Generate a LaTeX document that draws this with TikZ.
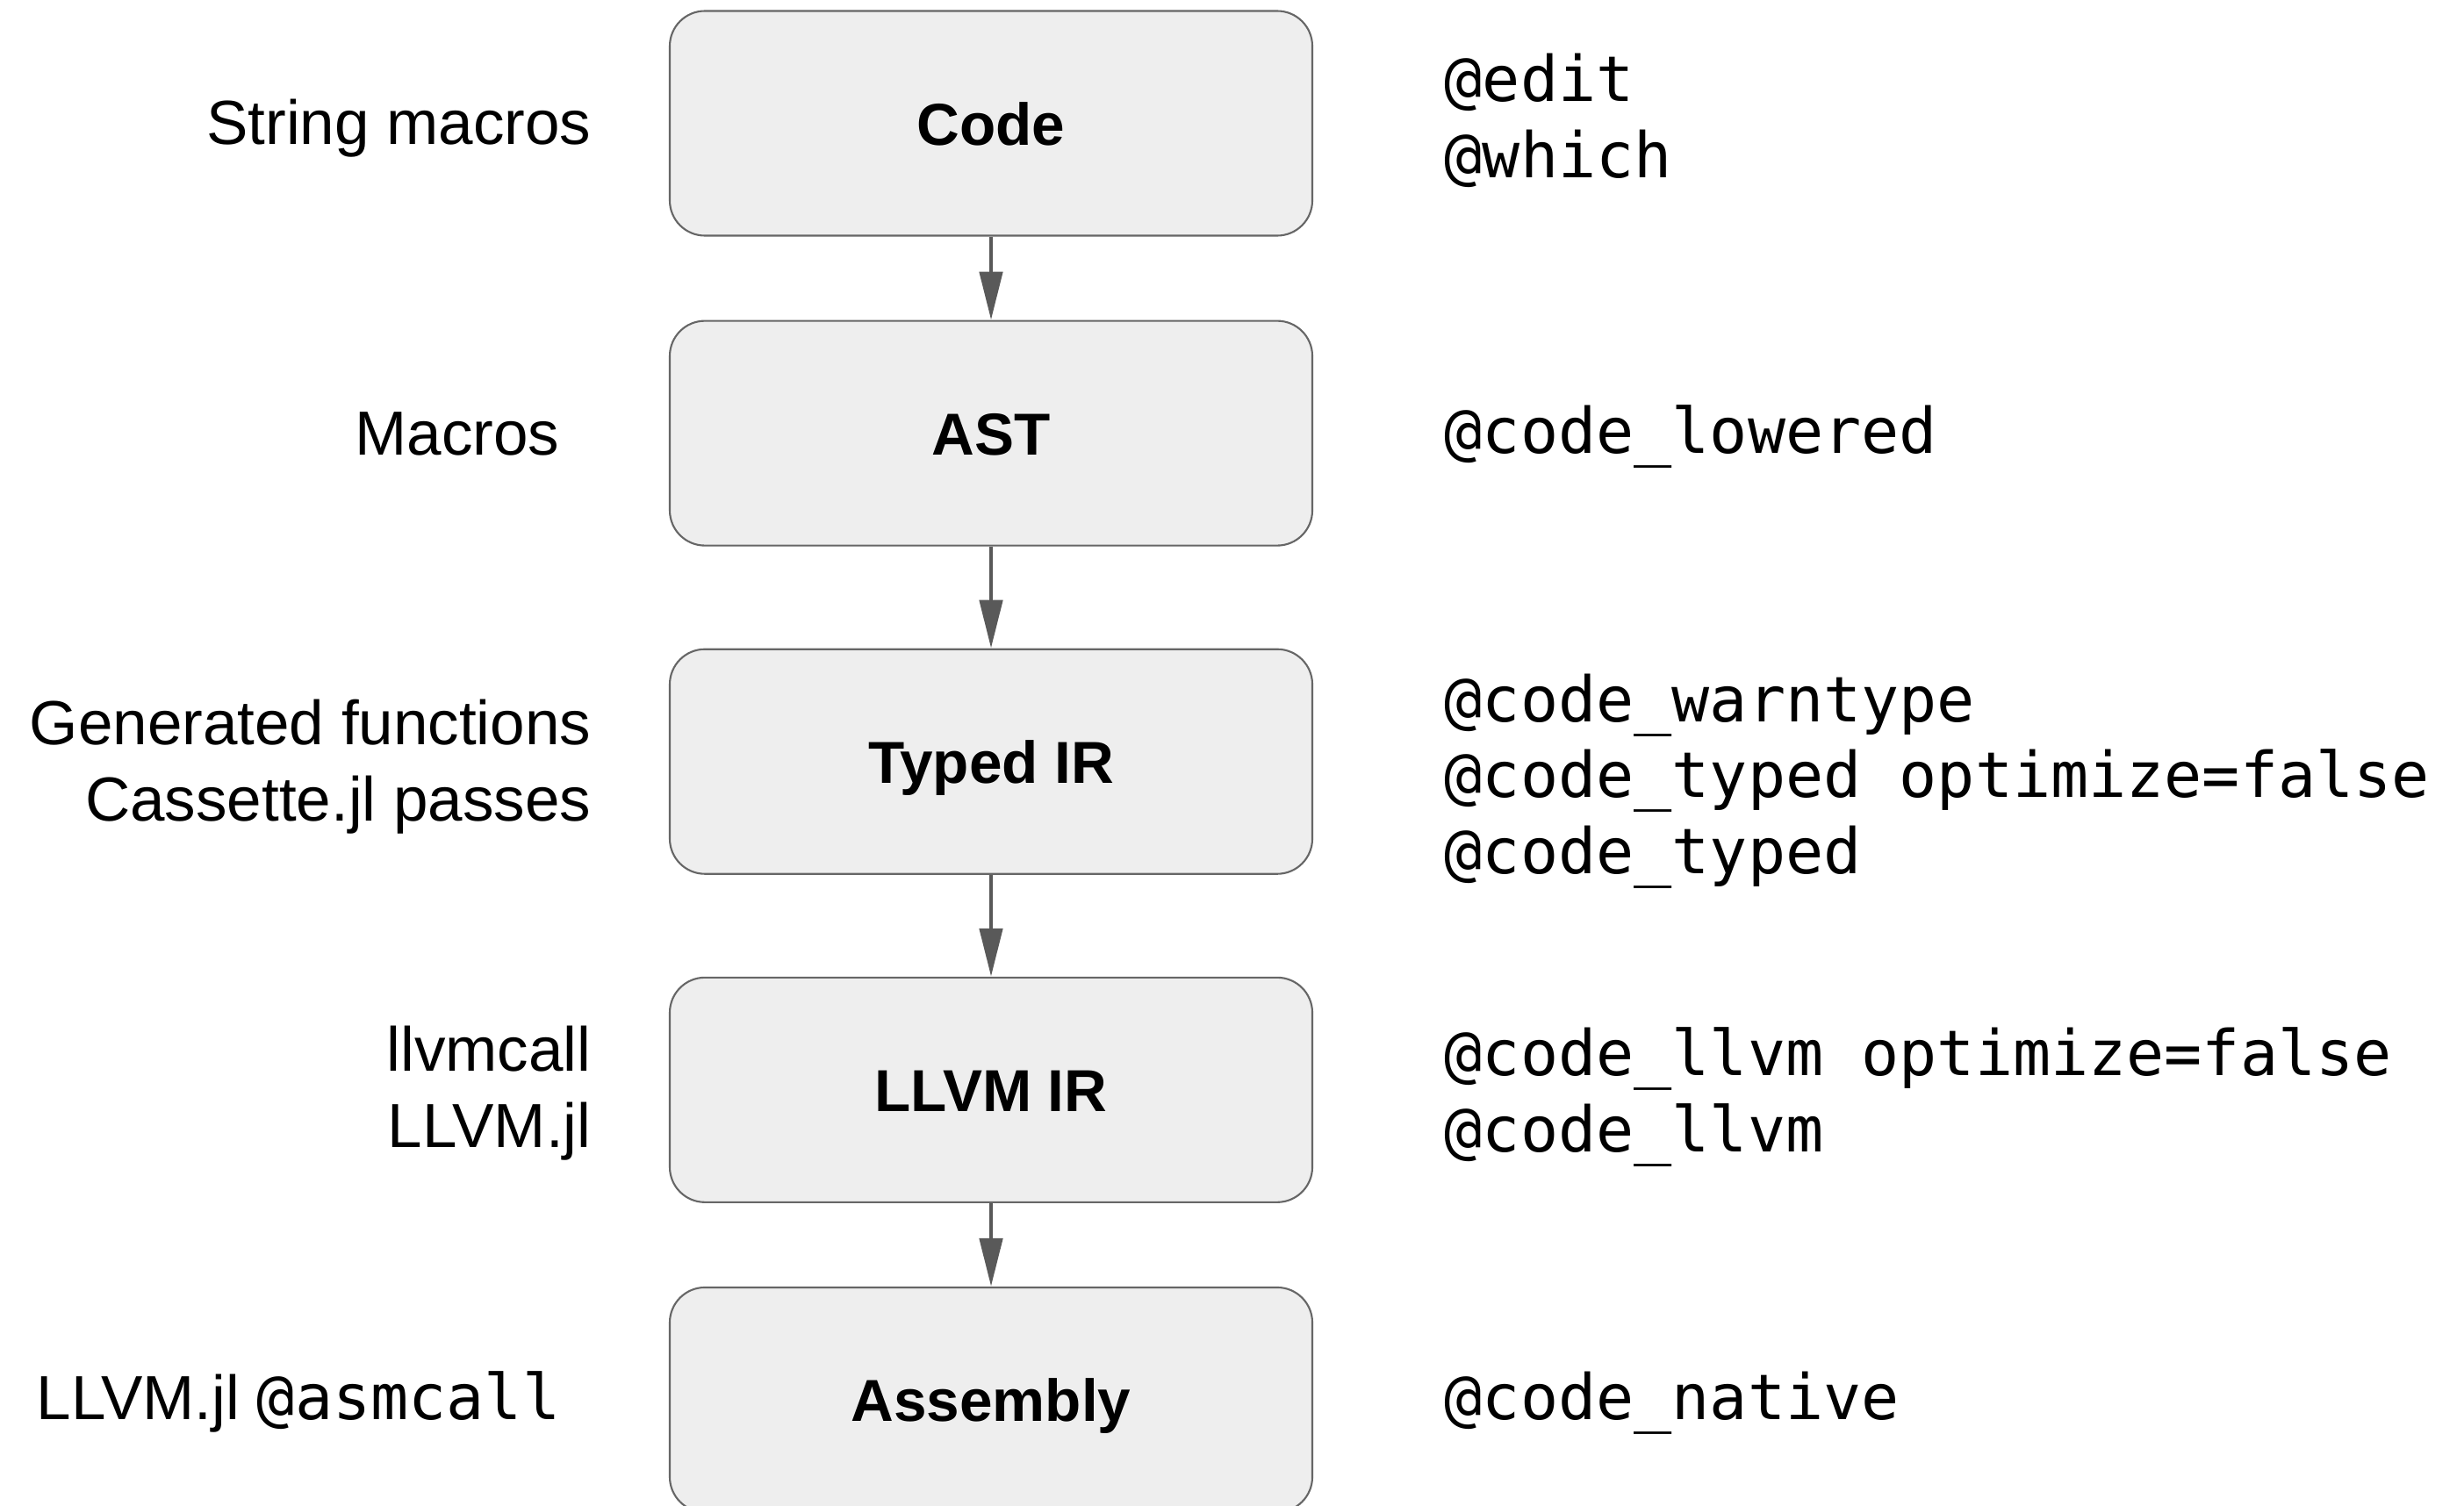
\documentclass[tikz,border=0pt]{standalone}
\usepackage{fontspec}
\setmainfont{Liberation Sans}
\setmonofont{DejaVu Sans Mono}
\usetikzlibrary{positioning, arrows.meta}

\definecolor{boxfill}{HTML}{EEEEEE}
\definecolor{boxline}{HTML}{666666}
\definecolor{arrowgray}{HTML}{595959}

\begin{document}
\begin{tikzpicture}[
    node distance=1.16cm,
    stage/.style={rectangle, draw=boxline, line width=0.6pt, fill=boxfill, rounded corners=0.4cm, minimum width=7.32cm, minimum height=2.56cm, text height=14pt, text depth=0pt, font=\fontsize{19.2}{24.5}\selectfont\bfseries},
    tool/.style={anchor=base east, align=right, inner sep=0pt, font=\fontsize{20.2}{24.5}\selectfont},
    macro/.style={anchor=base west, align=left, inner sep=0pt, font=\fontsize{20.4}{24.5}\selectfont\ttfamily},
    line/.style={draw=arrowgray, line width=1.4pt, -{Triangle[length=0.55cm, width=0.26cm]}}
]
\useasboundingbox (0,0) rectangle (28.07,-17.15);

% compilation stages
\node [stage] (code) at (11.29,-1.405) {Code};
\node [stage, below=0.95cm of code] (ast) {AST};
\node [stage, below=of ast] (typed) {Typed IR};
\node [stage, below=of typed] (llvmir) {LLVM IR};
\node [stage, below=0.95cm of llvmir] (asm) {Assembly};

% ways to hook into each stage (base = last line)
\node [tool] (strmac) at (6.74,-1.65) {String macros};
\node [tool] (mac) at (6.38,-5.18) {Macros};
\node [tool] (genfun) at (6.74,-9.35) {Generated functions\\Cassette.jl passes};
\node [tool] (llvmcall) at (6.74,-13.07) {llvmcall\\LLVM.jl};
\node [tool] (asmcall) at (6.39,-16.17) {LLVM.jl {\fontsize{20.4}{24.5}\selectfont\ttfamily @asmcall}};

% reflection macros
\node [macro] (edit) at (16.45,-2.02) {@edit\\@which};
\node [macro] (lowered) at (16.45,-5.16) {@code\_lowered};
\node [macro] (warn) at (16.45,-9.95) {@code\_warntype\\@code\_typed optimize=false\\@code\_typed};
\node [macro] (llvm) at (16.45,-13.12) {@code\_llvm optimize=false\\@code\_llvm};
\node [macro] (native) at (16.45,-16.17) {@code\_native};

\path [line] (code) -- (ast);
\path [line] (ast) -- (typed);
\path [line] (typed) -- (llvmir);
\path [line] (llvmir) -- (asm);

\end{tikzpicture}
\end{document}
